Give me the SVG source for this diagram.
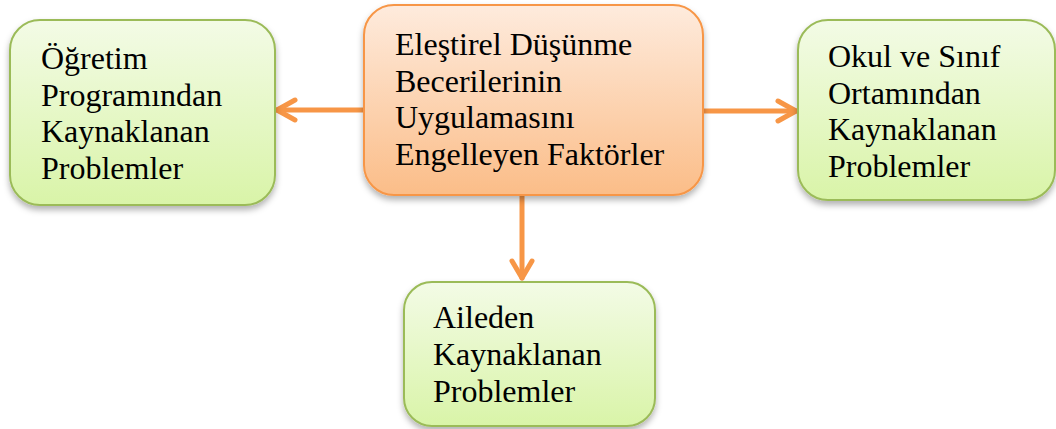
<svg xmlns="http://www.w3.org/2000/svg" width="1056" height="429" viewBox="0 0 1056 429">
<defs>
<linearGradient id="gGreen" x1="0" y1="0" x2="0" y2="1">
<stop offset="0" stop-color="#F3FBE6"/>
<stop offset="1" stop-color="#D9F4A8"/>
</linearGradient>
<linearGradient id="gOrange" x1="0" y1="0" x2="0" y2="1">
<stop offset="0" stop-color="#FEEBDD"/>
<stop offset="1" stop-color="#FBBD88"/>
</linearGradient>
<filter id="sh" x="-10%" y="-10%" width="125%" height="130%">
<feDropShadow dx="0" dy="4" stdDeviation="3" flood-color="#000" flood-opacity="0.3"/>
</filter>
</defs>
<style>
.g{fill:url(#gGreen);stroke:#9BBB59;stroke-width:2;filter:url(#sh)}
.o{fill:url(#gOrange);stroke:#F79646;stroke-width:2;filter:url(#sh)}
text{font-family:"Liberation Serif","Times New Roman",serif;font-size:32px;fill:#000}
.c{fill:none;stroke:#F79646;stroke-width:5;stroke-linecap:round;stroke-linejoin:round}
</style>
<g id="connectors">
<line class="c" x1="364" y1="110" x2="277" y2="110"/>
<polyline class="c" points="295,100 277,110 295,120"/>
<line class="c" x1="703" y1="111" x2="796" y2="111"/>
<polyline class="c" points="778,101 796,111 778,121"/>
<line class="c" x1="522" y1="196" x2="522" y2="278"/>
<polyline class="c" points="512,261 522,278 532,261"/>
</g>
<g id="center">
<rect class="o" x="364" y="5" width="339" height="190" rx="30" ry="30"/>
<text x="395" y="55">Eleştirel Düşünme</text>
<text x="395" y="92">Becerilerinin</text>
<text x="395" y="128">Uygulamasını</text>
<text x="395" y="165">Engelleyen Faktörler</text>
</g>
<g id="left">
<rect class="g" x="10" y="20" width="265" height="185" rx="30" ry="30"/>
<text x="41" y="69">Öğretim</text>
<text x="41" y="106">Programından</text>
<text x="41" y="142">Kaynaklanan</text>
<text x="41" y="179">Problemler</text>
</g>
<g id="right">
<rect class="g" x="798" y="20" width="257" height="180" rx="30" ry="30"/>
<text x="828" y="67">Okul ve Sınıf</text>
<text x="828" y="104">Ortamından</text>
<text x="828" y="140">Kaynaklanan</text>
<text x="828" y="177">Problemler</text>
</g>
<g id="bottom">
<rect class="g" x="404" y="282" width="251" height="144" rx="28" ry="28"/>
<text x="433" y="328">Aileden</text>
<text x="433" y="365">Kaynaklanan</text>
<text x="433" y="402">Problemler</text>
</g>
</svg>
